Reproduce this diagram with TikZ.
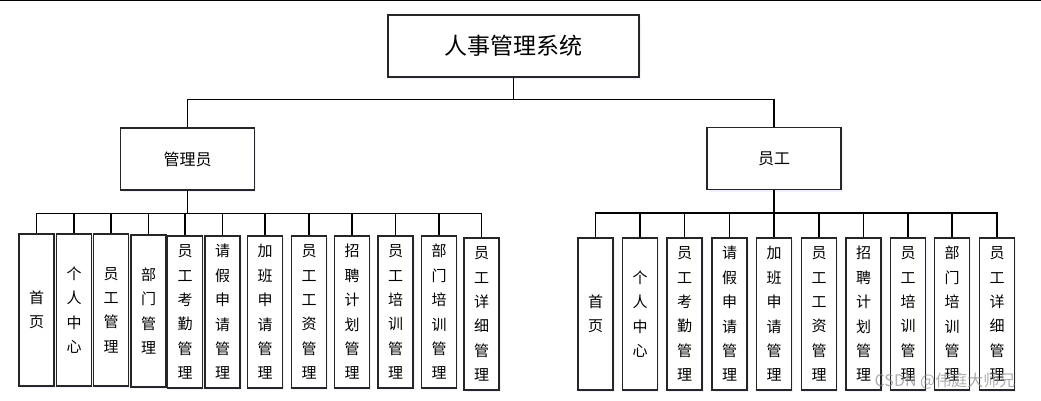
\documentclass[tikz,border=0pt]{standalone}
\usepackage{fontspec}
\newfontfamily\cjk{Noto Sans CJK SC}
\usetikzlibrary{shadows}
\begin{document}
\begin{tikzpicture}[x=1pt,y=-1pt,
  box/.style={draw=black!85, line width=1.2pt, fill=white, inner sep=0pt,
    drop shadow={fill=blue!6, shadow xshift=1.5pt, shadow yshift=-2pt, opacity=1}},
  topbox/.style={box, minimum width=251pt, minimum height=62pt, font=\cjk\fontsize{23}{28}\selectfont},
  midbox/.style={box, minimum width=134pt, minimum height=62pt, font=\cjk\fontsize{16}{20}\selectfont},
  leaf/.style={box, minimum width=35pt, minimum height=152pt, align=center, font=\cjk\fontsize{15}{24.4}\selectfont},
  conn/.style={line width=1.6pt, draw=black}]
\useasboundingbox (0,0) rectangle (1041,401);
\fill[white] (0,0) rectangle (1041,401);
\draw[line width=1.5pt] (0,0.75) -- (1041,0.75);

\node[topbox] (root) at (513.5,46) {人事管理系统};
\node[midbox] (admin) at (187.5,159) {管理员};
\node[midbox] (staff) at (774,158.5) {员工};

% admin leaves
\node[leaf] (a1) at (36.5,310) {首\\页};
\node[leaf] (a2) at (74,310) {个\\人\\中\\心};
\node[leaf] (a3) at (111,310) {员\\工\\管\\理};
\node[leaf] (a4) at (148.5,311) {部\\门\\管\\理};
\node[leaf] (a5) at (185,312) {员\\工\\考\\勤\\管\\理};
\node[leaf] (a6) at (222.5,312) {请\\假\\申\\请\\管\\理};
\node[leaf] (a7) at (265,312) {加\\班\\申\\请\\管\\理};
\node[leaf] (a8) at (309,312) {员\\工\\工\\资\\管\\理};
\node[leaf] (a9) at (352,312) {招\\聘\\计\\划\\管\\理};
\node[leaf] (a10) at (395.5,312) {员\\工\\培\\训\\管\\理};
\node[leaf] (a11) at (439,312) {部\\门\\培\\训\\管\\理};
\node[leaf] (a12) at (481.5,314) {员\\工\\详\\细\\管\\理};

% staff leaves
\node[leaf] (s1) at (595.5,314) {首\\页};
\node[leaf] (s2) at (640,314) {个\\人\\中\\心};
\node[leaf] (s3) at (684.5,314) {员\\工\\考\\勤\\管\\理};
\node[leaf] (s4) at (729.5,314) {请\\假\\申\\请\\管\\理};
\node[leaf] (s5) at (774,314) {加\\班\\申\\请\\管\\理};
\node[leaf] (s6) at (819,314) {员\\工\\工\\资\\管\\理};
\node[leaf] (s7) at (863.5,314) {招\\聘\\计\\划\\管\\理};
\node[leaf] (s8) at (908,314) {员\\工\\培\\训\\管\\理};
\node[leaf] (s9) at (952,314) {部\\门\\培\\训\\管\\理};
\node[leaf] (s10) at (997,314) {员\\工\\详\\细\\管\\理};

% connectors
\draw[conn] (root.south) -- ++(0,22) -| (admin.north);
\draw[conn] (root.south) -- ++(0,22) -| (staff.north);
\foreach \i in {1,...,12}{
  \draw[conn] (admin.south) -- ++(0,23) -| (a\i.north);
}
\foreach \i in {1,...,10}{
  \draw[conn] (staff.south) -- ++(0,23) -| (s\i.north);
}

\node[text=black!45, opacity=0.7, font=\cjk\fontsize{16}{18}\selectfont] (wm) at (945,381) {CSDN @伟庭大师兄};
\end{tikzpicture}
\end{document}
